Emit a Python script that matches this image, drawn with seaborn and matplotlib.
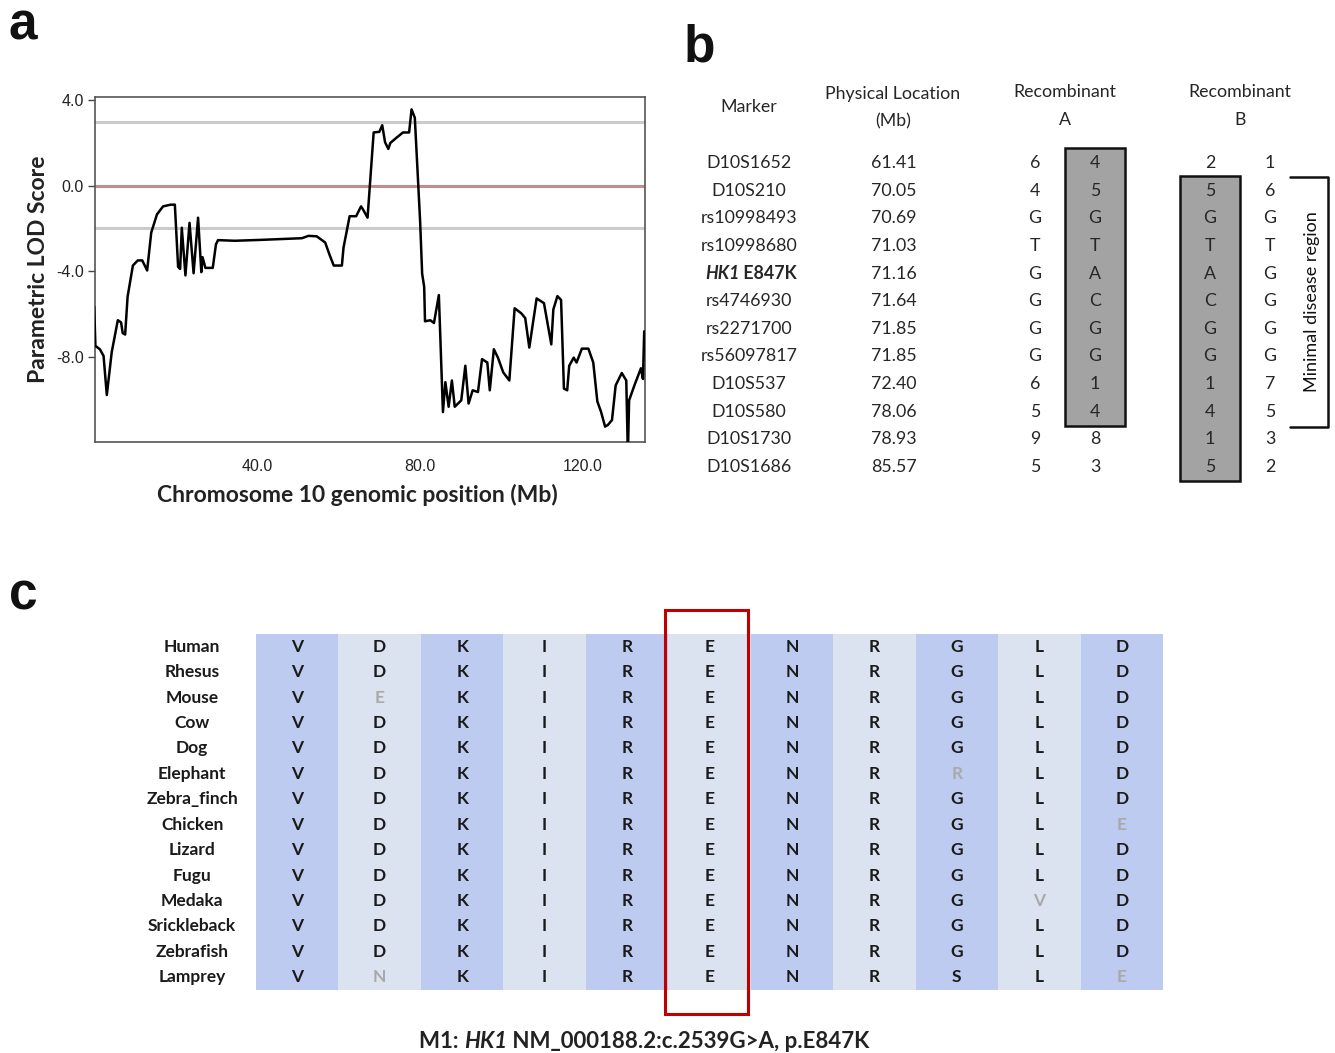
import numpy as np
import pandas as pd
import matplotlib
matplotlib.use("Agg")
import matplotlib.pyplot as plt
import seaborn as sns
from matplotlib.colors import ListedColormap
from matplotlib.patches import Rectangle

# panel a: LOD trace along chromosome 10
position_mb = [0.0, 0.3, 1.4, 2.3, 3.1, 4.3, 5.8, 6.6, 7.0, 7.6, 8.2, 9.5, 10.7, 11.8, 13.0,
               14.0, 15.4, 16.9, 18.8, 19.8, 20.6, 21.1, 21.5, 22.4, 23.4, 24.4, 25.5, 26.3,
               26.6, 27.3, 29.1, 29.9, 30.4, 34.5, 40.7, 51.0, 52.6, 54.6, 56.7, 57.7, 58.8,
               60.8, 61.2, 62.7, 64.3, 65.5, 66.0, 67.1, 68.6, 70.0, 70.7, 71.4, 72.2, 72.7,
               74.3, 75.8, 77.3, 77.9, 78.7, 80.0, 80.5, 81.0, 81.2, 82.5, 83.4, 84.6, 85.6,
               86.2, 87.0, 87.8, 88.5, 90.1, 91.1, 91.9, 92.9, 94.2, 95.2, 96.5, 97.1, 98.1,
               99.1, 100.4, 101.9, 103.2, 104.8, 105.8, 106.8, 108.6, 110.4, 112.2, 112.7,
               113.7, 114.6, 115.3, 116.1, 116.6, 117.7, 118.4, 119.7, 121.3, 122.5, 123.5,
               124.4, 125.4, 126.1, 127.1, 128.0, 129.5, 130.6, 131.0, 131.3, 132.6, 134.2,
               134.7, 135.0]
lod_score = [-5.66, -7.5, -7.66, -7.97, -9.8, -7.8, -6.3, -6.4, -6.9, -6.97, -5.2, -3.74, -3.5,
             -3.5, -3.97, -2.2, -1.35, -0.97, -0.89, -0.89, -3.8, -3.9, -1.97, -4.2, -1.74, -4.1,
             -1.5, -4.05, -3.35, -3.85, -3.85, -2.74, -2.55, -2.58, -2.54, -2.46, -2.35, -2.37,
             -2.66, -3.2, -3.74, -3.74, -2.9, -1.43, -1.43, -0.97, -1.12, -1.5, 2.49, 2.52, 2.83,
             2.03, 1.72, 2.0, 2.26, 2.49, 2.49, 3.57, 3.18, -1.66, -4.12, -4.74, -6.35, -6.3,
             -6.43, -5.12, -10.6, -9.2, -10.35, -9.12, -10.35, -10.05, -8.43, -10.2, -9.58,
             -9.66, -8.12, -8.28, -9.58, -7.66, -8.05, -8.74, -9.12, -5.74, -5.97, -6.2, -7.58,
             -5.28, -5.5, -7.43, -5.8, -5.17, -5.35, -9.5, -9.58, -8.43, -8.05, -8.28, -7.63,
             -7.63, -8.28, -10.1, -10.58, -11.28, -11.2, -10.97, -9.35, -8.77, -9.12, -12.6,
             -10.05, -9.35, -8.55, -9.05, -6.82]
threshold_lines = [3.0, -2.0]
y_ticks = [4.0, 0.0, -4.0, -8.0]
x_ticks = [40.0, 80.0, 120.0]

# panel b: haplotype table
markers = ["D10S1652", "D10S210", "rs10998493", "rs10998680", "HK1 E847K", "rs4746930",
           "rs2271700", "rs56097817", "D10S537", "D10S580", "D10S1730", "D10S1686"]
locations = ["61.41", "70.05", "70.69", "71.03", "71.16", "71.64", "71.85", "71.85",
             "72.40", "78.06", "78.93", "85.57"]
rec_a_1 = ["6", "4", "G", "T", "G", "G", "G", "G", "6", "5", "9", "5"]
rec_a_2 = ["4", "5", "G", "T", "A", "C", "G", "G", "1", "4", "8", "3"]
rec_b_1 = ["2", "5", "G", "T", "A", "C", "G", "G", "1", "4", "1", "5"]
rec_b_2 = ["1", "6", "G", "T", "G", "G", "G", "G", "7", "5", "3", "2"]
box_a_rows = (0, 9)
box_b_rows = (1, 11)
minimal_rows = (1, 9)

# panel c: conservation of the residues around E847
species = ["Human", "Rhesus", "Mouse", "Cow", "Dog", "Elephant", "Zebra_finch", "Chicken",
           "Lizard", "Fugu", "Medaka", "Srickleback", "Zebrafish", "Lamprey"]
sequences = ["VDKIRENRGLD", "VDKIRENRGLD", "VEKIRENRGLD", "VDKIRENRGLD", "VDKIRENRGLD",
             "VDKIRENRRLD", "VDKIRENRGLD", "VDKIRENRGLE", "VDKIRENRGLD", "VDKIRENRGLD",
             "VDKIRENRGVD", "VDKIRENRGLD", "VDKIRENRGLD", "VNKIRENRSLE"]
faded = [("Mouse", 1), ("Elephant", 8), ("Chicken", 10), ("Medaka", 9),
         ("Lamprey", 1), ("Lamprey", 10)]
mutated_col = 5

sns.set_theme(style="white")
plt.rcParams["font.family"] = ["Lato", "DejaVu Sans"]

W, H = 1335, 1053
fig = plt.figure(figsize=(W / 100, H / 100), dpi=100)

# ---------------- a
axa = fig.add_axes([95 / W, 1 - 442 / H, 550 / W, 345 / H])
df = pd.DataFrame({"pos": position_mb, "lod": lod_score})
for t in threshold_lines:
    axa.axhline(t, color="#cbcbcb", lw=2.2, zorder=1)
axa.axhline(0, color="#c28d8d", lw=2.2, zorder=1)
sns.lineplot(data=df, x="pos", y="lod", ax=axa, color="black", lw=1.8,
             estimator=None, sort=False, zorder=3)
axa.set_xlim(0.2, 135.2)
axa.set_ylim(-12, 4.15)
axa.set_yticks(y_ticks)
axa.set_yticklabels([f"{v:.1f}" for v in y_ticks], family="Liberation Sans", fontsize=11.5,
                    color="#222222")
axa.set_xticks(x_ticks)
axa.set_xticklabels([f"{v:.1f}" for v in x_ticks], family="Liberation Sans", fontsize=11.5,
                    color="#222222")
axa.tick_params(axis="y", length=5, width=1, color="#444444", pad=3, left=True)
axa.tick_params(axis="x", length=0, pad=12)
for s in axa.spines.values():
    s.set_color("#555555")
    s.set_linewidth(1.2)
axa.set_xlabel("Chromosome 10 genomic position (Mb)", fontsize=16.5, fontweight="bold",
               color="#222222")
axa.set_ylabel("Parametric LOD Score", fontsize=16.5, fontweight="bold", color="#222222")
axa.xaxis.set_label_coords(0.477, -0.122)
axa.yaxis.set_label_coords(-0.084, 0.5)

# ---------------- overlay for b, letters and caption (pixel coordinates)
ov = fig.add_axes([0, 0, 1, 1], zorder=-1)
ov.set_xlim(0, W)
ov.set_ylim(H, 0)
ov.axis("off")
ov.patch.set_alpha(0)

for letter, lx, ly in [("a", 9, 39), ("b", 684, 62), ("c", 9, 609)]:
    ov.text(lx, ly, letter, fontsize=37, fontweight="bold", family="Liberation Sans",
            va="baseline", ha="left", color="#111111")

tc = "#262626"
fs = 12.8
col_x = {"marker": 749, "loc": 894, "a1": 1035, "a2": 1095, "b1": 1210, "b2": 1270}
row0, dy = 163, 27.64


def row_y(i):
    return row0 + i * dy


ov.text(col_x["marker"], 107, "Marker", ha="center", va="center", fontsize=fs, color=tc)
ov.text(893, 94, "Physical Location", ha="center", va="center", fontsize=fs, color=tc)
ov.text(893, 121, "(Mb)", ha="center", va="center", fontsize=fs, color=tc)
for cx, lab in [(1065, "A"), (1240, "B")]:
    ov.text(cx, 92, "Recombinant", ha="center", va="center", fontsize=fs, color=tc)
    ov.text(cx, 120, lab, ha="center", va="center", fontsize=fs, color=tc)

# shaded haplotype boxes
for cx, (r0, r1) in [(col_x["a2"], box_a_rows), (col_x["b1"], box_b_rows)]:
    top = row_y(r0) - 15
    bot = row_y(r1) + 14
    ov.add_patch(Rectangle((cx - 30, top), 60, bot - top, facecolor="#a3a3a3",
                           edgecolor="#111111", lw=1.8, zorder=1))

for i in range(len(markers)):
    y = row_y(i)
    if markers[i].startswith("HK1"):
        t1 = ov.text(705, y, "HK1", fontsize=fs, fontweight="bold", style="italic",
                     va="center", ha="left", color=tc)
        ov.annotate(" E847K", xy=(1, 0), xycoords=t1, va="bottom", ha="left",
                    fontsize=fs, fontweight="bold", color=tc)
    else:
        ov.text(col_x["marker"], y, markers[i], ha="center", va="center", fontsize=fs, color=tc)
    ov.text(col_x["loc"], y, locations[i], ha="center", va="center", fontsize=fs, color=tc)
    for key, vals in [("a1", rec_a_1), ("a2", rec_a_2), ("b1", rec_b_1), ("b2", rec_b_2)]:
        ov.text(col_x[key], y, vals[i], ha="center", va="center", fontsize=fs, color=tc,
                zorder=3)

# minimal disease region bracket
btop = row_y(minimal_rows[0]) - 14
bbot = row_y(minimal_rows[1]) + 15
ov.plot([1290, 1328, 1328, 1290], [btop, btop, bbot, bbot], color="#111111", lw=1.8)
ov.text(1312, (btop + bbot) / 2, "Minimal disease region", rotation=90, ha="center",
        va="center", fontsize=13, color="#111111")

# ---------------- c
axc = fig.add_axes([256 / W, 1 - 990 / H, 907 / W, 356 / H])
n_rows, n_cols = len(species), len(sequences[0])
stripes = np.tile(np.arange(n_cols) % 2, (n_rows, 1))
letters = np.array([list(s) for s in sequences])
sns.heatmap(stripes, ax=axc, cmap=ListedColormap(["#bccbef", "#dbe3f1"]), cbar=False,
            annot=letters, fmt="", xticklabels=False, yticklabels=species,
            annot_kws={"fontsize": 12.5, "fontweight": "bold"})
faded_idx = {(species.index(sp), c) for sp, c in faded}
for k, txt in enumerate(axc.texts):
    r, c = divmod(k, n_cols)
    txt.set_color("#a9a9a9" if (r, c) in faded_idx else "#1a1a1a")
axc.set_yticklabels(species, rotation=0, ha="center", fontsize=12.5, fontweight="bold",
                    color="#1a1a1a")
axc.tick_params(axis="y", length=0, pad=46)
axc.tick_params(axis="x", length=0)
axc.add_patch(Rectangle((mutated_col - 0.04, -0.94), 1.01, n_rows + 1.88, fill=False,
                        edgecolor="#c00000", lw=2.2, clip_on=False, zorder=5))

# caption with italic gene name
t1 = ov.text(419, 1041, "M1: ", fontsize=16, fontweight="bold", va="center", ha="left",
             color="#222222")
t2 = ov.annotate("HK1", xy=(1, 0), xycoords=t1, va="bottom", ha="left", fontsize=16,
                 fontweight="bold", style="italic", color="#222222")
ov.annotate(" NM_000188.2:c.2539G>A, p.E847K", xy=(1, 0), xycoords=t2, va="bottom",
            ha="left", fontsize=16, fontweight="bold", color="#222222")

fig.savefig("out.png", dpi=100)
